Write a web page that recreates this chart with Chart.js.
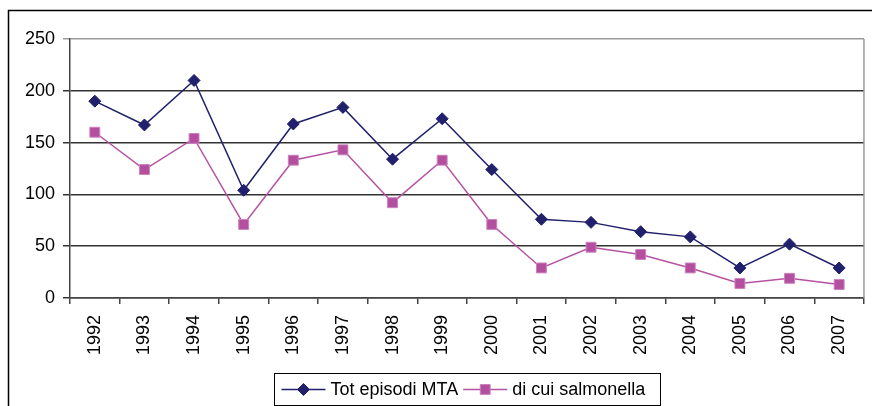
<!DOCTYPE html>
<html>
<head>
<meta charset="utf-8">
<script src="https://cdn.jsdelivr.net/npm/chart.js@4"></script>
<style>
  html, body { margin: 0; padding: 0; background: #fff; }
</style>
</head>
<body>
<canvas id="mtaChart" width="872" height="406"></canvas>
<script>
const years = ["1992", "1993", "1994", "1995", "1996", "1997", "1998", "1999",
               "2000", "2001", "2002", "2003", "2004", "2005", "2006", "2007"];
const totEpisodi = [190, 167, 210, 104, 168, 184, 134, 173, 124, 76, 73, 64, 59, 29, 52, 29];
const salmonella = [160, 124, 154, 71, 133, 143, 92, 133, 71, 29, 49, 42, 29, 14, 19, 13];
const yMax = 250;
const yStep = 50;

const FONT = "'Liberation Sans', Arial, sans-serif";

// outer frame + grey right border of the plot area
const framePlugin = {
  id: "frame",
  beforeDraw(chart) {
    const ctx = chart.ctx;
    ctx.save();
    ctx.fillStyle = "#fff";
    ctx.fillRect(0, 0, chart.width, chart.height);
    ctx.strokeStyle = "#000";
    ctx.lineWidth = 1.5;
    ctx.strokeRect(8.5, 10.5, chart.width + 20, chart.height + 20);
    ctx.restore();
  },
  beforeDatasetsDraw(chart) {
    const a = chart.chartArea;
    const ctx = chart.ctx;
    ctx.save();
    ctx.strokeStyle = "#999";
    ctx.lineWidth = 1.5;
    ctx.beginPath();
    ctx.moveTo(a.right, a.top);
    ctx.lineTo(a.right, a.bottom);
    ctx.stroke();
    ctx.restore();
  }
};

// boxed legend with line + marker samples
const boxLegend = {
  id: "boxLegend",
  afterDraw(chart) {
    const ctx = chart.ctx;
    const top = 373.5, bottom = 405.5, left = 274.5, right = 660.5;
    const cy = (top + bottom) / 2;
    ctx.save();
    ctx.strokeStyle = "#000";
    ctx.lineWidth = 1;
    ctx.strokeRect(left, top, right - left, bottom - top);
    ctx.font = "18px " + FONT;
    ctx.textBaseline = "middle";
    ctx.fillStyle = "#000";
    let x = left + 7;
    chart.data.datasets.forEach((ds) => {
      ctx.strokeStyle = ds.borderColor;
      ctx.lineWidth = 1.5;
      ctx.beginPath();
      ctx.moveTo(x, cy);
      ctx.lineTo(x + 44, cy);
      ctx.stroke();
      ctx.fillStyle = ds.pointBackgroundColor;
      ctx.strokeStyle = ds.pointBorderColor;
      ctx.lineWidth = 1;
      Chart.helpers.drawPoint(ctx, { pointStyle: ds.pointStyle, radius: ds.pointRadius, borderWidth: 1 }, x + 22, cy);
      ctx.fillStyle = "#000";
      ctx.fillText(ds.label, x + 49, cy + 1);
      x += 49 + ctx.measureText(ds.label).width + 5;
    });
    ctx.restore();
  }
};

const ctx = document.getElementById("mtaChart").getContext("2d");
new Chart(ctx, {
  type: "line",
  data: {
    labels: years,
    datasets: [
      {
        label: "Tot episodi MTA",
        data: totEpisodi,
        borderColor: "#20206C",
        borderWidth: 1.5,
        pointStyle: "rectRot",
        pointRadius: 6,
        pointBackgroundColor: "#20206C",
        pointBorderColor: "#20206C",
        pointBorderWidth: 1,
        tension: 0,
        fill: false
      },
      {
        label: "di cui salmonella",
        data: salmonella,
        borderColor: "#B652A2",
        borderWidth: 1.5,
        pointStyle: "rect",
        pointRadius: 7,
        pointBackgroundColor: "#B44FA0",
        pointBorderColor: "#CC80BE",
        pointBorderWidth: 1,
        tension: 0,
        fill: false
      }
    ]
  },
  options: {
    responsive: false,
    animation: false,
    events: [],
    layout: { padding: { left: 0, top: 39, right: 6, bottom: 0 } },
    plugins: {
      legend: { display: false },
      tooltip: { enabled: false }
    },
    scales: {
      x: {
        offset: true,
        afterFit: (scale) => { scale.height = 108; },
        grid: {
          offset: true,
          drawOnChartArea: false,
          drawTicks: true,
          tickLength: 6,
          color: "#444",
          lineWidth: 1.5
        },
        border: { color: "#444", width: 1.5 },
        ticks: {
          minRotation: 90,
          maxRotation: 90,
          padding: 11,
          color: "#000",
          font: { family: FONT, size: 18 }
        }
      },
      y: {
        min: 0,
        max: yMax,
        afterFit: (scale) => { scale.width = 70; },
        grid: {
          color: (c) => (c.tick && c.tick.value === yMax ? "#999" : "#333"),
          lineWidth: 1.5,
          drawTicks: true,
          tickLength: 7
        },
        border: { color: "#444", width: 1.5 },
        ticks: {
          stepSize: yStep,
          padding: 8,
          color: "#000",
          font: { family: FONT, size: 18 }
        }
      }
    }
  },
  plugins: [framePlugin, boxLegend]
});
</script>
</body>
</html>
